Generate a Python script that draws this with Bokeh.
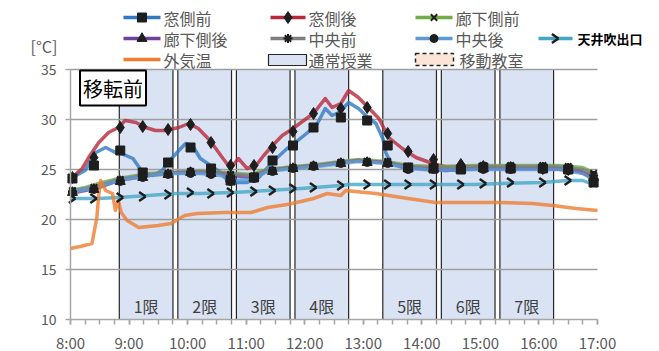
import math
from bokeh.plotting import figure
from bokeh.models import Range1d, FixedTicker, Label
from bokeh.core.properties import value
from bokeh.embed import file_html
from bokeh.resources import INLINE

FONT = "Noto Sans CJK JP"

def hrs(lst):
    out = []
    for s in lst:
        h, m = s.split(":")
        out.append(int(h) + int(m) / 60.0)
    return out

# ---------------- data ----------------
hour_ticks = [8, 9, 10, 11, 12, 13, 14, 15, 16, 17]
hour_labels = ["8:00", "9:00", "10:00", "11:00", "12:00", "13:00", "14:00", "15:00", "16:00", "17:00"]
y_ticks = [10, 15, 20, 25, 30, 35]

period_names = ["1限", "2限", "3限", "4限", "5限", "6限", "7限"]
period_start = ["8:50", "9:50", "10:50", "11:50", "13:20", "14:20", "15:20"]
period_end = ["9:45", "10:45", "11:45", "12:45", "14:15", "15:15", "16:15"]

mado_mae_t = ["8:00", "8:15", "8:26", "8:36", "8:46", "8:52", "9:04", "9:14", "9:24", "9:34", "9:40", "9:51",
              "9:58", "10:05", "10:13", "10:34", "10:41", "10:47", "11:01", "11:13", "11:22", "11:32", "11:42",
              "11:53", "12:03", "12:13", "12:21", "12:28", "12:35", "12:45", "12:55", "13:05", "13:13", "13:20",
              "13:23", "13:28", "13:40", "14:01", "14:24", "14:55", "15:30", "16:02", "16:30", "16:43", "16:53", "17:00"]
mado_mae_v = [24.1, 24.9, 26.7, 27.2, 26.7, 26.6, 26.1, 24.7, 24.4, 24.9, 25.7, 26.9,
              27.6, 27.4, 26.1, 24.7, 23.9, 23.7, 23.7, 24.2, 25.2, 26.2, 27.1,
              27.9, 28.7, 29.6, 31.1, 30.4, 30.7, 31.7, 31.1, 30.2, 29.6, 28.1,
              26.7, 25.7, 25.2, 25.1, 24.9, 25.1, 25.1, 25.1, 25.0, 24.8, 24.2, 23.7]

mado_ato_t = ["8:00", "8:12", "8:20", "8:29", "8:39", "8:49", "8:56", "9:07", "9:17", "9:27", "9:37", "9:51",
              "10:01", "10:11", "10:23", "10:34", "10:44", "10:52", "11:01", "11:10", "11:18", "11:27", "11:37",
              "11:48", "11:59", "12:09", "12:21", "12:28", "12:37", "12:45", "12:55", "13:05", "13:16", "13:26",
              "13:40", "13:54", "14:11", "14:27", "14:55", "15:30", "16:02", "16:38", "17:00"]
mado_ato_v = [24.1, 25.1, 26.4, 27.7, 28.7, 29.2, 29.9, 29.7, 29.2, 28.9, 28.9, 29.2,
              29.6, 29.1, 27.9, 26.4, 25.1, 26.1, 25.1, 25.4, 26.4, 27.4, 28.4,
              29.1, 29.9, 30.6, 32.1, 31.2, 31.6, 32.9, 32.2, 31.2, 30.1, 28.2,
              27.1, 26.2, 25.6, 25.2, 25.3, 25.2, 25.2, 24.9, 24.0]

roka_mae_t = ["8:00", "8:15", "8:29", "8:49", "9:20", "9:48", "10:13", "10:40", "11:04", "11:22", "11:48",
              "12:13", "12:37", "12:55", "13:23", "13:47", "14:15", "14:55", "15:40", "16:20", "16:45", "17:00"]
roka_mae_v = [22.9, 23.2, 23.6, 24.1, 24.6, 24.7, 24.8, 24.7, 24.5, 25.0, 25.3,
              25.5, 25.8, 26.0, 25.8, 25.4, 25.3, 25.4, 25.4, 25.4, 25.2, 24.5]

roka_ato_t = ["8:00", "8:15", "8:29", "8:49", "9:20", "9:48", "10:13", "10:34", "10:47", "11:04", "11:22",
              "11:48", "12:13", "12:37", "12:55", "13:23", "13:47", "14:15", "14:25", "14:55", "15:40",
              "16:20", "16:40", "17:00"]
roka_ato_v = [22.6, 22.9, 23.2, 23.9, 24.4, 24.7, 24.7, 24.6, 24.4, 24.2, 24.9,
              25.2, 25.4, 25.7, 25.9, 25.7, 25.2, 25.0, 24.9, 25.1, 25.1,
              25.1, 24.9, 24.2]

chuo_mae_t = ["8:00", "8:15", "8:29", "8:49", "9:20", "9:48", "10:13", "10:40", "11:04", "11:22", "11:48",
              "12:13", "12:37", "12:55", "13:23", "13:47", "14:15", "14:55", "15:40", "16:20", "16:45", "17:00"]
chuo_mae_v = [22.8, 23.1, 23.4, 24.0, 24.5, 24.7, 24.8, 24.6, 24.4, 24.9, 25.2,
              25.4, 25.7, 25.9, 25.7, 25.3, 25.2, 25.3, 25.3, 25.3, 25.0, 24.3]

chuo_ato_t = ["8:00", "8:15", "8:29", "8:49", "9:20", "9:48", "10:13", "10:34", "10:47", "11:04", "11:22",
              "11:48", "12:13", "12:37", "12:55", "13:23", "13:47", "14:15", "14:55", "15:40", "16:20",
              "16:45", "17:00"]
chuo_ato_v = [22.7, 23.0, 23.3, 23.9, 24.4, 24.6, 24.6, 24.4, 23.9, 24.0, 24.8,
              25.1, 25.3, 25.6, 25.8, 25.6, 25.1, 24.9, 25.0, 25.0, 25.0,
              24.6, 23.8]

tenjo_t = ["8:00", "8:28", "8:49", "9:20", "9:48", "10:13", "10:47", "11:22", "11:56", "12:37", "12:45",
           "14:55", "15:20", "16:02", "16:30", "16:45", "17:00"]
tenjo_v = [22.1, 22.1, 22.2, 22.4, 22.6, 22.6, 22.7, 22.9, 23.1, 23.4, 23.5,
           23.5, 23.6, 23.7, 23.9, 23.9, 23.3]

gaiki_t = ["8:00", "8:10", "8:22", "8:27", "8:29", "8:31", "8:36", "8:43", "8:46", "8:49", "8:52", "8:58",
           "9:10", "9:30", "9:43", "9:57", "10:10", "10:38", "11:05", "11:22", "11:42", "11:56", "12:09",
           "12:23", "12:37", "12:42", "13:02", "13:13", "13:26", "13:46", "14:14", "14:55", "15:19",
           "15:53", "16:14", "16:38", "17:00"]
gaiki_v = [17.1, 17.3, 17.6, 20.2, 22.5, 23.9, 22.9, 22.6, 20.9, 21.9, 20.7, 19.9,
           19.2, 19.4, 19.6, 20.4, 20.6, 20.7, 20.7, 21.2, 21.5, 21.8, 22.1,
           22.6, 22.4, 22.9, 22.7, 22.6, 22.4, 22.1, 21.7, 21.7, 21.7,
           21.6, 21.4, 21.1, 20.9]

marker_t = ["8:02", "8:24", "8:51", "9:14", "9:40", "10:03", "10:24", "10:44", "11:08", "11:27", "11:48",
            "12:09", "12:37", "13:04", "13:25", "13:46", "14:12", "14:40", "15:03", "15:31", "16:04",
            "16:30", "16:56"]
mado_mae_m = [24.1, 25.4, 26.9, 24.7, 25.7, 27.2, 25.1, 23.9, 24.2, 25.9, 27.4, 29.2, 30.2, 29.9, 27.4,
              25.2, 25.1, 25.0, 25.2, 25.1, 25.1, 25.0, 23.7]
mado_ato_m = [24.2, 26.2, 29.2, 29.3, 29.0, 29.5, 27.7, 25.4, 25.4, 27.2, 28.8, 30.6, 31.1, 31.2, 28.6,
              26.8, 26.0, 25.5, 25.3, 25.2, 25.1, 25.0, 24.0]
roka_mae_m = [22.9, 23.2, 24.0, 24.3, 24.6, 24.8, 24.7, 24.5, 24.3, 24.9, 25.2, 25.4, 25.7, 25.8, 25.8,
              25.3, 25.3, 25.3, 25.4, 25.4, 25.4, 25.3, 24.6]
roka_ato_m = [22.7, 23.0, 23.8, 24.2, 24.5, 24.7, 24.6, 24.1, 24.2, 24.8, 25.1, 25.3, 25.6, 25.7, 25.6,
              25.1, 25.1, 25.0, 25.1, 25.1, 25.1, 25.0, 24.2]
chuo_mae_m = [22.8, 23.1, 23.9, 24.3, 24.6, 24.8, 24.6, 24.4, 24.3, 24.9, 25.2, 25.4, 25.7, 25.8, 25.7,
              25.2, 25.2, 25.2, 25.3, 25.3, 25.3, 25.2, 24.4]
chuo_ato_m = [22.7, 23.0, 23.8, 24.2, 24.5, 24.6, 24.5, 23.8, 24.1, 24.8, 25.1, 25.3, 25.6, 25.7, 25.6,
              25.0, 25.0, 25.0, 25.0, 25.0, 25.0, 24.9, 23.9]
tenjo_m = [22.1, 22.1, 22.2, 22.3, 22.5, 22.7, 22.6, 22.7, 22.8, 22.9, 23.1, 23.2, 23.4, 23.5, 23.5,
           23.5, 23.5, 23.5, 23.6, 23.7, 23.7, 23.9, 23.7]

series_names = ["窓側前", "窓側後", "廊下側前", "廊下側後", "中央前", "中央後", "天井吹出口", "外気温"]
area_names = ["通常授業", "移動教室"]
panel_title = "移転前"
unit_label = "[°C]"

# ---------------- styles / layout ----------------
C_BLUE = "#2f78c4"
C_RED = "#b8283a"
C_GREEN = "#70ad47"
C_PURPLE = "#7040a0"
C_GRAY = "#7f7f7f"
C_LBLUE = "#5b9bd5"
C_TEAL = "#42a6c6"
C_ORANGE = "#ed7d31"
MK = "#1e1e1e"
TXT = "#595959"
AX = "#a6a6a6"
PERIOD_FILL = "#dae3f3"

W, H = 659, 351
FL, FR, FB = 70, 597, 319          # plot-area left/right/bottom in px
X0, X1, Y0 = 8.0, 17.0, 10.0
PX_PER_H = (FR - FL) / (X1 - X0)
PX_PER_DEG = 10.0

def px_x(px):
    return X0 + (px - FL) / PX_PER_H

def px_y(py):
    return Y0 + (FB - py) / PX_PER_DEG

# frame spans the whole canvas; axes are pinned to the data area with fixed_location + bounds
p = figure(width=W, height=H, x_range=Range1d(px_x(0), px_x(W)), y_range=Range1d(px_y(H), px_y(0)),
           toolbar_location=None, output_backend="svg", min_border=0, outline_line_color=None)
p.xgrid.visible = False
p.ygrid.visible = False

p.yaxis.ticker = FixedTicker(ticks=y_ticks)
p.yaxis.bounds = (y_ticks[0], y_ticks[-1])
p.yaxis.fixed_location = X0
p.xaxis.ticker = FixedTicker(ticks=hour_ticks, minor_ticks=[X0 + 0.25 * i for i in range(37)])
p.xaxis.bounds = (X0, X1)
p.xaxis.fixed_location = Y0
p.xaxis.major_label_overrides = {t: l for t, l in zip(hour_ticks, hour_labels)}
for ax in (p.xaxis, p.yaxis):
    ax.axis_line_color = AX
    ax.axis_line_width = 1.5
    ax.major_tick_line_color = AX
    ax.minor_tick_line_color = AX
    ax.major_tick_line_width = 1.5
    ax.minor_tick_line_width = 1.5
    ax.major_tick_in = 0
    ax.major_tick_out = 5
    ax.minor_tick_in = 0
    ax.major_label_text_font = FONT
    ax.major_label_text_color = TXT
p.xaxis.minor_tick_out = 5
p.yaxis.minor_tick_out = 0
p.xaxis.major_label_text_font_size = "15px"
p.yaxis.major_label_text_font_size = "14px"
p.xaxis.major_label_standoff = 7
p.yaxis.major_label_standoff = 9

# class periods
ps = hrs(period_start)
pe = hrs(period_end)
p.quad(left=ps, right=pe, bottom=y_ticks[0], top=y_ticks[-1], fill_color=PERIOD_FILL,
       line_color="#262626", line_width=1.2)
# horizontal gridlines over the plot area only
gy = y_ticks[1:]
p.segment(x0=[X0] * len(gy), y0=gy, x1=[X1] * len(gy), y1=gy, line_color="#9e9e9e", line_width=1.5)
p.text(x=[(a + b) / 2 for a, b in zip(ps, pe)], y=11.4, text=period_names, text_font=value(FONT),
       text_font_size="16px", text_color="#404040", text_align="center", text_baseline="middle")

# series lines
line_specs = [
    (mado_mae_t, mado_mae_v, C_BLUE), (mado_ato_t, mado_ato_v, C_RED),
    (roka_mae_t, roka_mae_v, C_GREEN), (roka_ato_t, roka_ato_v, C_PURPLE),
    (chuo_mae_t, chuo_mae_v, C_GRAY), (chuo_ato_t, chuo_ato_v, C_LBLUE),
    (tenjo_t, tenjo_v, C_TEAL), (gaiki_t, gaiki_v, C_ORANGE),
]
for t, v, colr in line_specs:
    p.line(hrs(t), v, line_color=colr, line_width=3.5, line_alpha=0.8, line_join="round")

# markers
msize = {"square": 9, "diamond": 12, "x": 9, "triangle": 10, "asterisk": 9, "circle": 8}
mt = hrs(marker_t)
for vals, mk in [(mado_mae_m, "square"), (mado_ato_m, "diamond"), (roka_mae_m, "x"),
                 (roka_ato_m, "triangle"), (chuo_mae_m, "asterisk"), (chuo_ato_m, "circle")]:
    p.scatter(mt, vals, marker=mk, size=msize[mk], fill_color=MK, line_color=MK,
              line_width=2 if mk in ("x", "asterisk") else 1)
for ang in (145, 215):
    p.ray(x=[t + 0.05 for t in mt], y=tenjo_m, length=8, length_units="screen",
          angle=math.radians(ang), line_color=MK, line_width=2.5)

p.add_layout(Label(x=px_x(112.5), y=px_y(87.5), text=panel_title, text_font=FONT, text_font_size="20px",
                   text_color="black", text_align="center", text_baseline="middle",
                   border_line_color="black", border_line_width=2, background_fill_color="white",
                   padding=3))

# ---------------- legend (top strip) ----------------
col_x0 = [123, 270, 415, 538]
col_x1 = [160, 305, 452, 572]
row_y = [17, 38, 59]
items = [  # (col,row,color,marker)
    (0, 0, C_BLUE, "square"), (1, 0, C_RED, "diamond"), (2, 0, C_GREEN, "x"),
    (0, 1, C_PURPLE, "triangle"), (1, 1, C_GRAY, "asterisk"), (2, 1, C_LBLUE, "circle"),
    (3, 1, C_TEAL, "chevron"), (0, 2, C_ORANGE, None),
]
for (c, r, colr, mk), name in zip(items, series_names):
    x0, x1, y = px_x(col_x0[c]), px_x(col_x1[c]), px_y(row_y[r])
    p.segment(x0=[x0], y0=[y], x1=[x1], y1=[y], line_color=colr, line_width=3.5)
    xm = (x0 + x1) / 2
    if mk == "chevron":
        for ang in (145, 215):
            p.ray(x=[xm + 0.05], y=[y], length=8, length_units="screen", angle=math.radians(ang),
                  line_color=MK, line_width=2.5)
        p.add_layout(Label(x=px_x(col_x1[c] + 5), y=y, text=name, text_font=FONT, text_font_size="13px",
                           text_font_style="bold", text_color="black", text_baseline="middle"))
    else:
        if mk is not None:
            p.scatter(x=[xm], y=[y], marker=mk, size=msize[mk], fill_color=MK, line_color=MK,
                      line_width=2 if mk in ("x", "asterisk") else 1)
        p.add_layout(Label(x=px_x(col_x1[c] + 3), y=y, text=name, text_font=FONT, text_font_size="16px",
                           text_color=TXT, text_baseline="middle"))

p.quad(left=[px_x(268)], right=[px_x(306)], top=[px_y(54)], bottom=[px_y(65)], fill_color=PERIOD_FILL,
       line_color="#262626", line_width=1.2)
p.add_layout(Label(x=px_x(308), y=px_y(59), text=area_names[0], text_font=FONT, text_font_size="16px",
                   text_color=TXT, text_baseline="middle"))
p.quad(left=[px_x(415)], right=[px_x(453)], top=[px_y(53)], bottom=[px_y(65)], fill_color="#fbe5d6",
       line_color="#262626", line_width=1.5, line_dash="4 3")
p.add_layout(Label(x=px_x(459), y=px_y(59), text=area_names[1], text_font=FONT, text_font_size="16px",
                   text_color=TXT, text_baseline="middle"))
p.add_layout(Label(x=px_x(30), y=px_y(45), text=unit_label, text_font=FONT, text_font_size="16px",
                   text_color=TXT, text_baseline="middle"))

open("out.html", "w").write(file_html(p, INLINE))
